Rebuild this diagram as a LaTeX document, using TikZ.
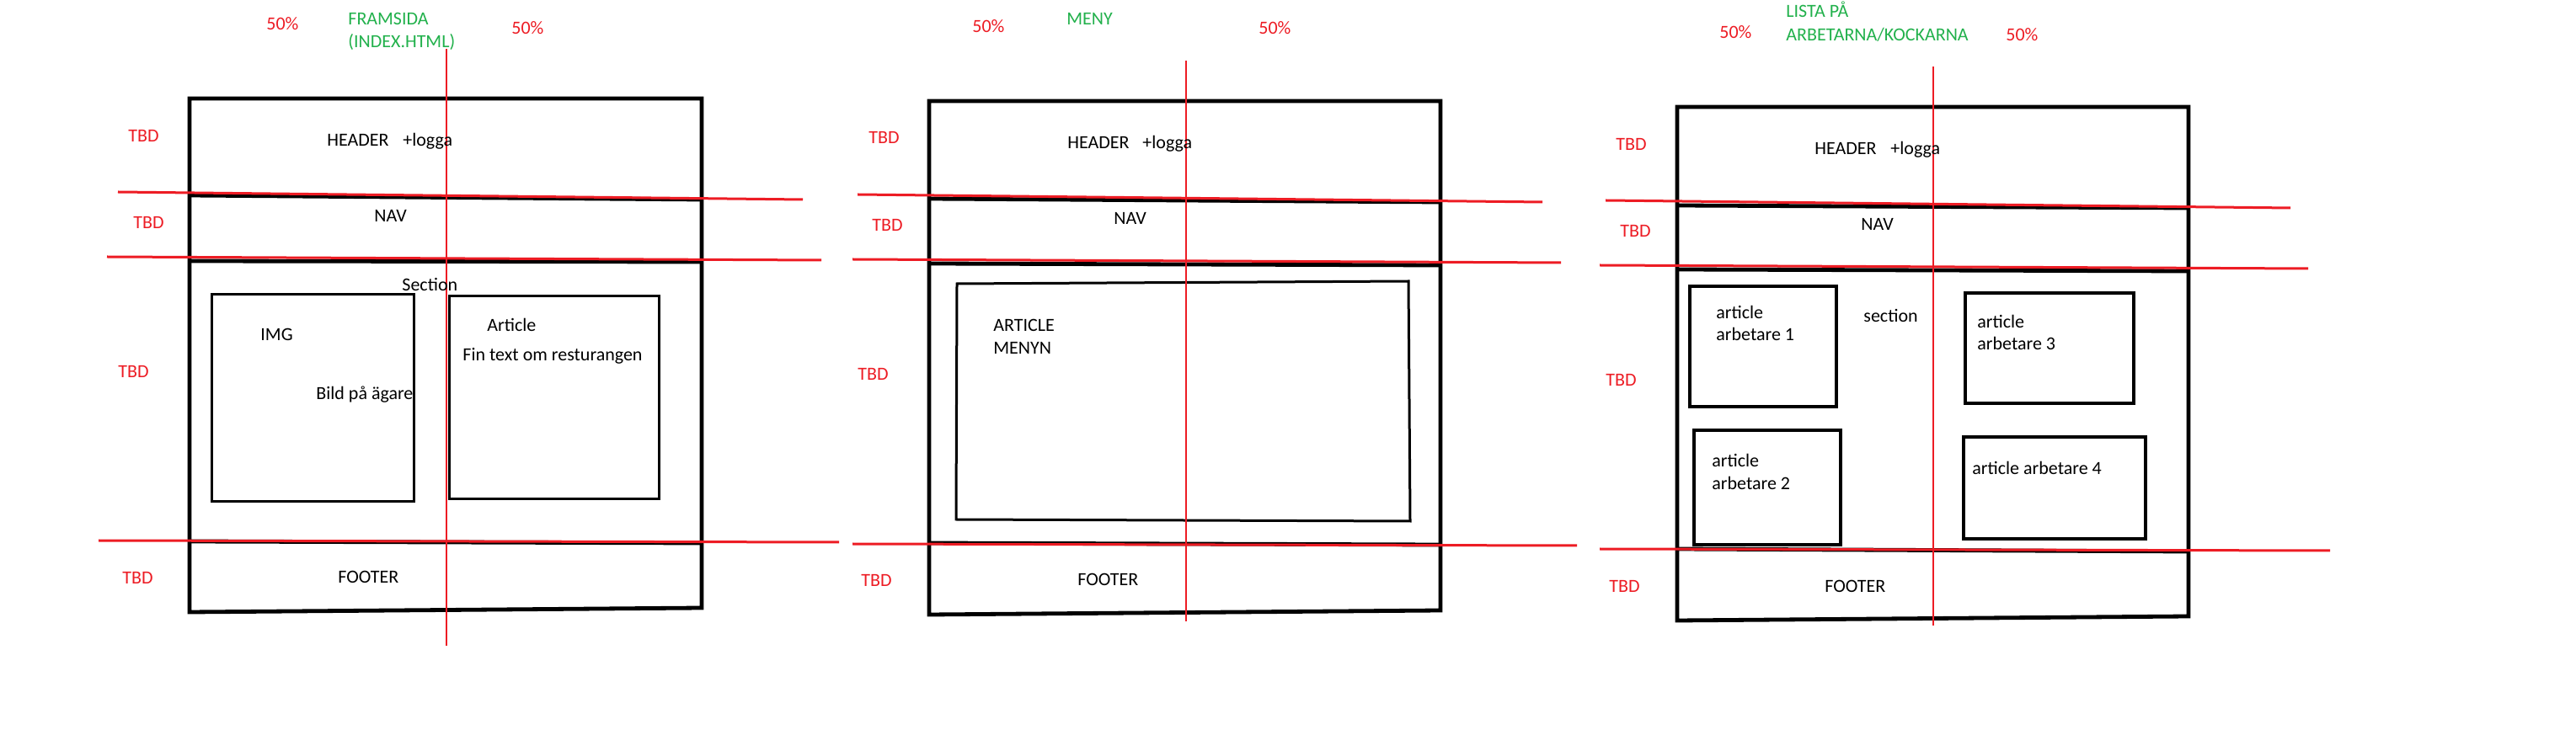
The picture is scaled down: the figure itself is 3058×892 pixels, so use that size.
\documentclass[tikz,border=0pt]{standalone}
\usepackage{fontspec}
\setmainfont{Carlito}
\definecolor{pred}{RGB}{237,28,36}
\definecolor{pgreen}{RGB}{34,177,76}
\tikzset{
  outerbox/.style={draw=black, line width=2.4pt, line cap=round},
  divider/.style={draw=black, line width=2.4pt},
  innerbox/.style={draw=black, line width=1.5pt},
  thickinner/.style={draw=black, line width=2pt},
  redh/.style={draw=pred, line width=1.5pt},
  redv/.style={draw=pred, line width=1.1pt},
  lbl/.style={anchor=base west, inner sep=0pt, font=\fontsize{11pt}{13pt}\selectfont},
  redlbl/.style={lbl, text=pred},
  greenlbl/.style={lbl, text=pgreen},
}
\begin{document}
\begin{tikzpicture}[x=0.5pt, y=-0.5pt]
\useasboundingbox[fill=white] (0,0) rectangle (3058,892);

% ================= Panel 1 =================
\draw[outerbox] (225,117) -- (833,117) -- (833,722) -- (225,727) -- cycle;
\draw[divider] (225,232) -- (833,237);
\draw[divider] (225,310) -- (833,311);
\draw[divider] (225,643) -- (833,645);
\draw[innerbox] (251,350) rectangle (491,596);
\draw[innerbox] (533,352) rectangle (782,593);
\coordinate (r1a) at (140,228); \coordinate (r1b) at (953,237);
\coordinate (r1c) at (127,305); \coordinate (r1d) at (975,309);
\coordinate (r1e) at (117,642); \coordinate (r1f) at (996,644);
\coordinate (v1a) at (530,58);  \coordinate (v1b) at (530,767);
\draw[redh] (r1a) -- (r1b);
\draw[redh] (r1c) -- (r1d);
\draw[redh] (r1e) -- (r1f);
\draw[redv] (v1a) -- (v1b);
\node[greenlbl] (t1a) at (413,30) {FRAMSIDA};
\node[greenlbl] (t1b) at (413,57) {(INDEX.HTML)};
\node[redlbl] (p1l) at (316,36) {50\%};
\node[redlbl] (p1r) at (607,41) {50\%};
\node[redlbl] (tbd11) at (152,169) {TBD};
\node[redlbl] (tbd12) at (158,272) {TBD};
\node[redlbl] (tbd13) at (140,449) {TBD};
\node[redlbl] (tbd14) at (145,694) {TBD};
\node[lbl] (h1) at (388,174) {HEADER};
\node[lbl] (lg1) at (478,174) {+logga};
\node[lbl] (n1) at (444,264) {NAV};
\node[lbl] (s1) at (477,346) {Section};
\node[lbl] (img1) at (309,405) {IMG};
\node[lbl] (art1) at (578,394) {Article};
\node[lbl] (fin1) at (549,429) {Fin text om resturangen};
\node[lbl] (bild1) at (375,475) {Bild på ägare};
\node[lbl] (f1) at (401,693) {FOOTER};

% ================= Panel 2 =================
\draw[outerbox] (1103,120) -- (1710,120) -- (1710,725) -- (1103,730) -- cycle;
\draw[divider] (1103,236) -- (1710,240);
\draw[divider] (1103,313) -- (1710,315);
\draw[divider] (1103,645) -- (1710,647);
\draw[innerbox] (1136,337) -- (1672,334) -- (1674,619) -- (1135,617) -- cycle;
\coordinate (r2a) at (1018,231); \coordinate (r2b) at (1831,240);
\coordinate (r2c) at (1012,308); \coordinate (r2d) at (1853,312);
\coordinate (r2e) at (1012,646); \coordinate (r2f) at (1872,648);
\coordinate (v2a) at (1408,72);  \coordinate (v2b) at (1408,738);
\draw[redh] (r2a) -- (r2b);
\draw[redh] (r2c) -- (r2d);
\draw[redh] (r2e) -- (r2f);
\draw[redv] (v2a) -- (v2b);
\node[greenlbl] (t2a) at (1266,30) {MENY};
\node[redlbl] (p2l) at (1154,39) {50\%};
\node[redlbl] (p2r) at (1494,41) {50\%};
\node[redlbl] (tbd21) at (1031,171) {TBD};
\node[redlbl] (tbd22) at (1035,275) {TBD};
\node[redlbl] (tbd23) at (1018,452) {TBD};
\node[redlbl] (tbd24) at (1022,697) {TBD};
\node[lbl] (h2) at (1267,177) {HEADER};
\node[lbl] (lg2) at (1356,177) {+logga};
\node[lbl] (n2) at (1322,267) {NAV};
\node[lbl] (art2a) at (1179,394) {ARTICLE};
\node[lbl] (art2b) at (1179,421) {MENYN};
\node[lbl] (f2) at (1279,696) {FOOTER};

% ================= Panel 3 =================
\draw[outerbox] (1991,127) -- (2598,127) -- (2598,732) -- (1991,737) -- cycle;
\draw[divider] (1991,244) -- (2598,247);
\draw[divider] (1991,320) -- (2598,322);
\draw[divider] (1991,652) -- (2598,655);
\draw[thickinner] (2006,340) rectangle (2180,483);
\draw[thickinner] (2333,348) rectangle (2533,479);
\draw[thickinner] (2011,511) rectangle (2185,647);
\draw[thickinner] (2331,519) rectangle (2547,640);
\coordinate (r3a) at (1906,238); \coordinate (r3b) at (2719,247);
\coordinate (r3c) at (1899,315); \coordinate (r3d) at (2740,319);
\coordinate (r3e) at (1899,652); \coordinate (r3f) at (2766,654);
\coordinate (v3a) at (2295,79);  \coordinate (v3b) at (2295,743);
\draw[redh] (r3a) -- (r3b);
\draw[redh] (r3c) -- (r3d);
\draw[redh] (r3e) -- (r3f);
\draw[redv] (v3a) -- (v3b);
\node[greenlbl] (t3a) at (2120,21) {LISTA PÅ};
\node[greenlbl] (t3b) at (2120,49) {ARBETARNA/KOCKARNA};
\node[redlbl] (p3l) at (2041,46) {50\%};
\node[redlbl] (p3r) at (2381,49) {50\%};
\node[redlbl] (tbd31) at (1918,179) {TBD};
\node[redlbl] (tbd32) at (1923,282) {TBD};
\node[redlbl] (tbd33) at (1906,459) {TBD};
\node[redlbl] (tbd34) at (1910,704) {TBD};
\node[lbl] (h3) at (2154,184) {HEADER};
\node[lbl] (lg3) at (2244,184) {+logga};
\node[lbl] (n3) at (2209,274) {NAV};
\node[lbl] (a1a) at (2037,379) {article};
\node[lbl] (a1b) at (2037,405) {arbetare 1};
\node[lbl] (s3) at (2212,383) {section};
\node[lbl] (a3a) at (2347,390) {article};
\node[lbl] (a3b) at (2347,416) {arbetare 3};
\node[lbl] (a2a) at (2032,555) {article};
\node[lbl] (a2b) at (2032,582) {arbetare 2};
\node[lbl] (a4) at (2341,564) {article arbetare 4};
\node[lbl] (f3) at (2166,704) {FOOTER};
\end{tikzpicture}
\end{document}
